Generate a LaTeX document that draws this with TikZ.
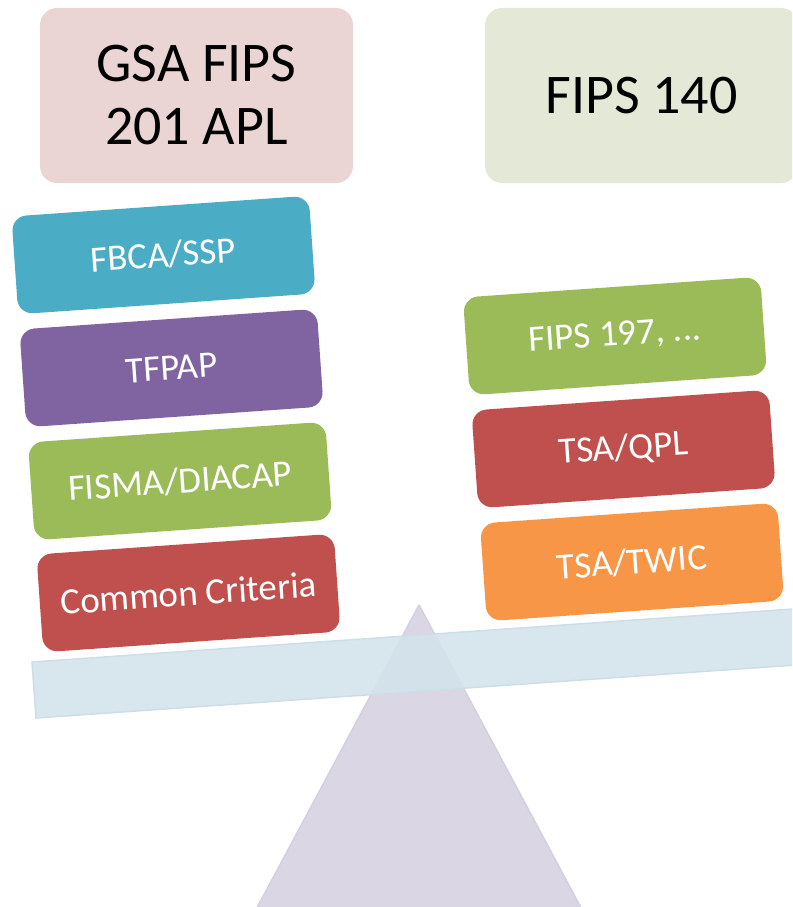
\documentclass[tikz,border=0pt]{standalone}
\usepackage{fontspec}
\setmainfont{Carlito}
\definecolor{topL}{HTML}{EAD5D4}
\definecolor{topR}{HTML}{E3E9D6}
\definecolor{cblue}{HTML}{4BACC6}
\definecolor{cpurple}{HTML}{8064A2}
\definecolor{cgreen}{HTML}{9BBB59}
\definecolor{cred}{HTML}{C0504D}
\definecolor{corange}{HTML}{F79646}
\definecolor{beamfill}{HTML}{D3E4EB}
\definecolor{beamline}{HTML}{CCDFE7}
\definecolor{trifill}{HTML}{DAD6E4}
\definecolor{triline}{HTML}{D4D0E0}
\tikzset{
  topbox/.style={rectangle, rounded corners=17pt, minimum width=313pt, minimum height=175pt,
    inner sep=0pt, align=center, text=black, font=\fontsize{56}{63}\selectfont},
  itembox/.style={rectangle, rounded corners=15pt, minimum width=298pt, minimum height=98pt,
    inner sep=0pt, rotate=4, text=white, font=\fontsize{37}{44}\selectfont},
}
\begin{document}
\begin{tikzpicture}[x=1pt,y=-1pt]
\useasboundingbox (0,0) rectangle (792,907);
\clip (0,0) rectangle (792,907);
% fulcrum
\draw[fill=trifill, draw=triline, line width=1.5pt, line join=round] (419,605) -- (609,960) -- (229,960) -- cycle;
% beam
\draw[fill=beamfill, draw=beamline, line width=1.5pt, fill opacity=0.9] (32,662) -- (850,605) -- (854,661) -- (36,718) -- cycle;
% top boxes
\node[topbox, fill=topL] (gsa) at (196.5,95.5) {GSA FIPS\\201 APL};
\node[topbox, fill=topR] (fips) at (641.5,95.5) {FIPS 140};
% left stack
\node[itembox, fill=cblue] (fbca) at (163.5,255) {FBCA/SSP};
\node[itembox, fill=cpurple] (tfpap) at (171.5,368) {TFPAP};
\node[itembox, fill=cgreen] (fisma) at (180,481) {FISMA/DIACAP};
\node[itembox, fill=cred] (cc) at (188.5,593) {Common Criteria};
% right stack
\node[itembox, fill=cgreen] (f197) at (615,336) {FIPS 197, ...};
\node[itembox, fill=cred] (qpl) at (623.5,449) {TSA/QPL};
\node[itembox, fill=corange] (twic) at (632,562) {TSA/TWIC};
\end{tikzpicture}
\end{document}
